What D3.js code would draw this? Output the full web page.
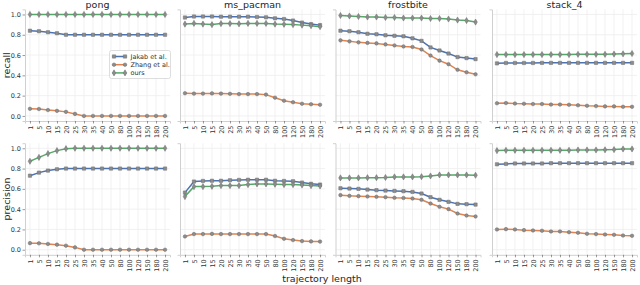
<!DOCTYPE html>
<html><head><meta charset="utf-8">
<script src="https://cdn.jsdelivr.net/npm/d3@7/dist/d3.min.js"></script>
<style>body{margin:0;background:#fff}svg{display:block;font-family:"DejaVu Sans",sans-serif}</style>
</head><body><svg id="c" width="640" height="285"></svg>
<script>
const categories = ["1","5","10","15","20","25","30","35","40","50","80","100","120","150","180","200"];
const games = ["pong","ms_pacman","frostbite","stack_4"];
const methods = ["Jakab et al.","Zhang et al.","ours"];
const yTicks = [0.0,0.2,0.4,0.6,0.8,1.0];

// recall
const recallPongJakab = [0.84,0.835,0.825,0.815,0.80,0.80,0.80,0.80,0.80,0.80,0.80,0.80,0.80,0.80,0.80,0.80];
const recallPongZhang = [0.07,0.068,0.058,0.05,0.04,0.02,0,0,0,0,0,0,0,0,0,0];
const recallPongOurs = [1,1,1,1,1,1,1,1,1,1,1,1,1,1,1,1];
const recallPacJakab = [0.97,0.98,0.98,0.98,0.978,0.978,0.978,0.978,0.975,0.972,0.962,0.955,0.94,0.92,0.905,0.895];
const recallPacZhang = [0.224,0.22,0.22,0.222,0.22,0.218,0.215,0.215,0.215,0.21,0.18,0.15,0.135,0.12,0.115,0.11];
const recallPacOurs = [0.905,0.912,0.905,0.90,0.91,0.91,0.908,0.912,0.912,0.912,0.905,0.903,0.90,0.895,0.89,0.88];
const recallFrostJakab = [0.84,0.835,0.825,0.81,0.805,0.795,0.79,0.785,0.765,0.74,0.675,0.645,0.615,0.58,0.57,0.56];
const recallFrostZhang = [0.745,0.735,0.725,0.72,0.715,0.705,0.695,0.685,0.68,0.655,0.595,0.545,0.51,0.455,0.43,0.41];
const recallFrostOurs = [0.99,0.985,0.98,0.975,0.975,0.97,0.97,0.965,0.965,0.965,0.96,0.96,0.955,0.945,0.94,0.925];
const recallStackJakab = [0.518,0.522,0.522,0.522,0.522,0.523,0.523,0.523,0.523,0.523,0.523,0.523,0.523,0.523,0.523,0.523];
const recallStackZhang = [0.125,0.127,0.122,0.12,0.117,0.117,0.112,0.112,0.11,0.105,0.10,0.097,0.094,0.094,0.09,0.09];
const recallStackOurs = [0.605,0.605,0.605,0.605,0.605,0.605,0.605,0.605,0.605,0.607,0.607,0.607,0.607,0.61,0.612,0.615];

// precision
const precPongJakab = [0.73,0.76,0.78,0.793,0.80,0.80,0.80,0.80,0.80,0.80,0.80,0.80,0.80,0.80,0.80,0.80];
const precPongZhang = [0.065,0.063,0.057,0.05,0.04,0.023,0,0,0,0,0,0,0,0,0,0];
const precPongOurs = [0.872,0.91,0.947,0.977,0.996,1,1,1,1,1,1,1,1,1,1,1];
const precPacJakab = [0.563,0.672,0.678,0.68,0.68,0.685,0.688,0.69,0.69,0.69,0.68,0.678,0.675,0.662,0.65,0.642];
const precPacZhang = [0.131,0.154,0.154,0.156,0.154,0.154,0.154,0.154,0.154,0.154,0.135,0.108,0.095,0.085,0.082,0.08];
const precPacOurs = [0.524,0.622,0.622,0.625,0.632,0.632,0.632,0.642,0.649,0.649,0.645,0.642,0.642,0.638,0.632,0.628];
const precFrostJakab = [0.606,0.603,0.60,0.593,0.587,0.583,0.58,0.577,0.57,0.554,0.518,0.492,0.472,0.452,0.449,0.445];
const precFrostZhang = [0.538,0.531,0.528,0.525,0.522,0.518,0.512,0.51,0.505,0.492,0.455,0.423,0.40,0.357,0.337,0.328];
const precFrostOurs = [0.708,0.708,0.708,0.71,0.71,0.712,0.718,0.718,0.718,0.72,0.727,0.737,0.737,0.737,0.737,0.734];
const precStackJakab = [0.842,0.846,0.85,0.85,0.85,0.85,0.853,0.853,0.853,0.853,0.853,0.853,0.853,0.853,0.853,0.853];
const precStackZhang = [0.20,0.203,0.20,0.193,0.19,0.187,0.18,0.18,0.173,0.167,0.157,0.154,0.15,0.147,0.14,0.137];
const precStackOurs = [0.977,0.98,0.98,0.98,0.98,0.98,0.98,0.98,0.98,0.983,0.983,0.983,0.985,0.987,0.993,0.993];

const recall = [
  [recallPongJakab, recallPongZhang, recallPongOurs],
  [recallPacJakab, recallPacZhang, recallPacOurs],
  [recallFrostJakab, recallFrostZhang, recallFrostOurs],
  [recallStackJakab, recallStackZhang, recallStackOurs]
];
const precision = [
  [precPongJakab, precPongZhang, precPongOurs],
  [precPacJakab, precPacZhang, precPacOurs],
  [precFrostJakab, precFrostZhang, precFrostOurs],
  [precStackJakab, precStackZhang, precStackOurs]
];
const rows = [{label:"recall", data:recall}, {label:"precision", data:precision}];

const colors = ["#4c72b0","#dd8452","#55a868"];
const markerTypes = [d3.symbolSquare, d3.symbolCircle, d3.symbolDiamond];
const markerSizes = [11, 10, 11];
const mFill = "#8c8c8c", mStroke = "#6e6e6e";

const svg = d3.select("#c");
const panelLeft = [25, 180, 335.5, 492];
const panelW = 145;
const rowTop = [9.4, 143.2];
const panelH = 111.6;

rows.forEach((row, ri) => {
  games.forEach((g, gi) => {
    const gx = panelLeft[gi], gy = rowTop[ri];
    const G = svg.append("g").attr("transform", `translate(${gx},${gy})`);
    const xs = d3.scalePoint().domain(categories).range([0, panelW]).padding(0.55);
    const ys = d3.scaleLinear().domain([-0.05, 1.05]).range([panelH, 0]);
    // grid
    G.append("g").selectAll("line").data(yTicks).join("line")
      .attr("x1",0).attr("x2",panelW).attr("y1",d=>ys(d)).attr("y2",d=>ys(d))
      .attr("stroke","#ededed").attr("stroke-width",0.8);
    G.append("g").selectAll("line").data(categories).join("line")
      .attr("y1",0).attr("y2",panelH).attr("x1",d=>xs(d)).attr("x2",d=>xs(d))
      .attr("stroke","#ededed").attr("stroke-width",0.8);
    // axes
    const xa = G.append("g").attr("transform",`translate(0,${panelH})`)
      .call(d3.axisBottom(xs).tickSize(2.5).tickPadding(2));
    xa.select(".domain").attr("stroke","#d0d0d0");
    xa.selectAll(".tick line").attr("stroke","#555").attr("stroke-width",0.6);
    xa.selectAll(".tick text").attr("font-size","6.5px").attr("fill","#333")
      .attr("font-family","DejaVu Sans")
      .attr("transform","rotate(-90)").attr("text-anchor","end")
      .attr("x",-4.5).attr("y",0).attr("dy","0.35em");
    const ya = G.append("g").call(d3.axisLeft(ys).tickValues(yTicks).tickSize(2.5).tickPadding(1.5)
      .tickFormat(gi===0 ? d3.format(".1f") : ""));
    ya.select(".domain").attr("stroke","#d0d0d0");
    ya.selectAll(".tick line").attr("stroke","#555").attr("stroke-width",0.6);
    if (gi!==0) ya.selectAll(".tick line").remove();
    ya.selectAll(".tick text").attr("font-size","6.5px").attr("fill","#333").attr("font-family","DejaVu Sans");
    // title
    if (ri===0) G.append("text").attr("x",panelW/2).attr("y",-1.5).attr("text-anchor","middle")
      .attr("font-size","9.5px").attr("fill","#262626").text(g);
    // series
    row.data[gi].forEach((vals, mi) => {
      const line = d3.line().x((d,i)=>xs(categories[i])).y(d=>ys(d));
      G.append("path").datum(vals).attr("d",line).attr("fill","none")
        .attr("stroke",colors[mi]).attr("stroke-width",1.5);
      G.append("g").selectAll("path").data(vals).join("path")
        .attr("transform",(d,i)=>`translate(${xs(categories[i])},${ys(d)})`)
        .attr("d", d3.symbol().type(markerTypes[mi]).size(markerSizes[mi]))
        .attr("fill",mFill).attr("stroke",mStroke).attr("stroke-width",0.5);
    });
  });
  // row label
  svg.append("text").attr("transform",`translate(10,${rowTop[ri]+panelH/2}) rotate(-90)`)
    .attr("text-anchor","middle").attr("font-size","9.5px").attr("fill","#262626").text(row.label);
});

// x label
svg.append("text").attr("x",322).attr("y",282).attr("text-anchor","middle")
  .attr("font-size","9.5px").attr("fill","#262626").text("trajectory length");

// legend
const L = svg.append("g").attr("transform","translate(109.5,50.5)");
L.append("rect").attr("width",61).attr("height",28).attr("rx",2)
  .attr("fill","#fff").attr("fill-opacity",0.85).attr("stroke","#d6d6d6").attr("stroke-width",0.8);
methods.forEach((m, mi) => {
  const yy = 6 + mi*8.2;
  L.append("line").attr("x1",3).attr("x2",17).attr("y1",yy).attr("y2",yy)
    .attr("stroke",colors[mi]).attr("stroke-width",1.5);
  [4.5,15.5].forEach(px => L.append("path").attr("transform",`translate(${px},${yy})`)
    .attr("d", d3.symbol().type(markerTypes[mi]).size(markerSizes[mi]))
    .attr("fill",mFill).attr("stroke",mStroke).attr("stroke-width",0.5));
  L.append("text").attr("x",21).attr("y",yy).attr("dy","0.35em").attr("font-size","6.5px")
    .attr("fill","#333").text(m);
});
</script></body></html>
